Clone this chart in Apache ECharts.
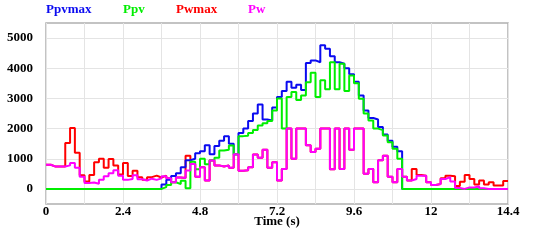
<!DOCTYPE html>
<html>
<head>
<meta charset="utf-8">
<script src="https://cdn.jsdelivr.net/npm/echarts@6/dist/echarts.min.js"></script>
<style>
  html, body { margin: 0; padding: 0; background: #fff; }
  #chart { width: 533px; height: 245px; }
</style>
</head>
<body>
<div id="chart"></div>
<script>
// sample times (s)
const time = [0,0.15,0.3,0.45,0.6,0.75,0.9,1.05,1.2,1.35,1.5,1.65,1.8,1.95,2.1,2.25,2.4,2.55,2.7,2.85,
  3,3.15,3.3,3.45,3.6,3.75,3.9,4.05,4.2,4.35,4.5,4.65,4.8,4.95,5.1,5.25,5.4,5.55,5.7,5.85,
  6,6.15,6.3,6.45,6.6,6.75,6.9,7.05,7.2,7.35,7.5,7.65,7.8,7.95,8.1,8.25,8.4,8.55,8.7,8.85,
  9,9.15,9.3,9.45,9.6,9.75,9.9,10.05,10.2,10.35,10.5,10.65,10.8,10.95,11.1,11.25,11.4,11.55,11.7,11.85,
  12,12.15,12.3,12.45,12.6,12.75,12.9,13.05,13.2,13.35,13.5,13.65,13.8,13.95,14.1,14.25,14.4]

const ppvmax = [0,0,0,0,0,0,0,0,0,0, 0,0,0,0,0,0,0,0,0,0,
  0,0,0,0,150,300,430,520,720,950, 1000,1180,1250,1450,1150,1420,1600,1750,1500,1150,
  1850,2000,2250,2500,2800,2300,2270,2700,3050,3250, 3550,3350,3450,3280,4170,4260,4200,4760,4650,4400,
  4200,4150,4000,3800,3550,3100,2600,2350,2300,2050, 1800,1600,1400,1250,0,0,0,0,0,0,
  0,0,0,0,0,0,0,0,0,0, 0,0,0,0,0,0,0]

const ppv = [0,0,0,0,0,0,0,0,0,0, 0,0,0,0,0,0,0,0,0,0,
  0,0,0,0,60,130,220,160,270,20, 900,650,1000,820,950,1030,1270,1300,1440,1150,
  1750,1760,1850,1950,2100,2180,2250,2600,3000,2000, 3050,3210,2950,3100,3540,3850,3050,3600,3300,4200,
  3300,4150,3250,3760,3500,2990,2500,2270,2000,1950, 1770,1550,1330,1000,0,0,0,0,0,0,
  0,0,0,0,0,0,0,0,0,0, 0,0,0,0,0,0,0]

const pwmax = [800,740,740,740,1520,2020,1200,450,250,460, 880,1000,700,990,780,480,860,430,600,390,
  300,390,440,380,440,350,220,380,360,1100, 830,400,720,280,940,780,740,780,700,1150,
  600,620,720,1140,1030,1300,700,880,280,660, 2000,1000,2000,2000,1450,1220,1330,2000,2000,650,
  2000,660,2000,1300,2000,2000,500,660,220,950, 1100,400,220,660,400,280,660,460,440,220,
  130,160,350,440,420,100,240,460,330,150, 275,150,220,110,110,260,260]

const pw = [800,740,740,740,780,860,700,400,200,210, 170,300,420,520,620,440,300,330,450,320,
  280,340,300,350,420,350,220,380,360,610, 830,400,720,280,940,780,740,780,700,1150,
  600,620,720,1140,1030,1300,700,880,280,660, 2000,1000,2000,2000,1450,1220,1330,2000,2000,650,
  2000,660,2000,1300,2000,2000,500,660,220,950, 1100,400,220,660,400,280,330,440,440,220,
  130,160,330,390,250,30,0,50,50,90, 20,0,0,0,0,0,0]

const names = ['Ppvmax', 'Ppv', 'Pwmax', 'Pw']
const xLabels = ['0', '2.4', '4.8', '7.2', '9.6', '12', '14.4']
const yTicks = [0, 1000, 2000, 3000, 4000, 5000]

const font = 'Liberation Serif'
const colors = { Ppvmax: '#0a0af0', Ppv: '#00ee00', Pwmax: '#ff0000', Pw: '#ff00ff' }
const legendLeft = { Ppvmax: 41, Ppv: 118, Pwmax: 171, Pw: 243 }

function line(name, vals) {
  return {
    name, type: 'line', step: 'end', symbol: 'none',
    data: vals.map((v, i) => [time[i], v]),
    lineStyle: { color: colors[name], width: 2 },
    itemStyle: { color: colors[name] }
  }
}

const txt = { fontFamily: font, fontWeight: 'bold', fontSize: 13 }

const chart = echarts.init(document.getElementById('chart'))
chart.setOption({
  animation: false,
  backgroundColor: '#fff',
  // one legend per name so each text gets its own colour
  legend: names.map(n => ({
    left: legendLeft[n], top: 3, padding: 0, itemWidth: 0, itemHeight: 0, icon: 'none',
    selectedMode: false, data: [n],
    textStyle: { ...txt, color: colors[n] }
  })),
  grid: {
    left: 46, right: 25, top: 23, bottom: 41,
    show: true, borderColor: '#b0b0b0', borderWidth: 1.5
  },
  xAxis: {
    type: 'value', min: 0, max: 14.4, interval: 1.2,
    name: 'Time (s)', nameLocation: 'middle', nameGap: 11, nameMoveOverlap: false,
    nameTextStyle: { ...txt, color: '#000' },
    axisLine: { show: false, onZero: false },
    axisTick: { show: false },
    axisLabel: {
      ...txt, color: '#000', margin: 1,
      formatter: (v, i) => (i % 2 === 0 ? xLabels[i / 2] : '')
    },
    splitLine: { show: true, lineStyle: { color: '#e4e4e4', width: 1 } }
  },
  yAxis: {
    type: 'value', min: -500, max: 5500,
    axisLine: { show: false },
    axisTick: { show: false, customValues: yTicks },
    axisLabel: {
      customValues: yTicks, ...txt, color: '#000', margin: 13,
      formatter: v => String(v)
    },
    splitLine: { show: true, lineStyle: { color: '#e4e4e4', width: 1 } }
  },
  series: [
    line('Pwmax', pwmax),
    line('Ppvmax', ppvmax),
    line('Ppv', ppv),
    line('Pw', pw)
  ]
})
</script>
</body>
</html>
